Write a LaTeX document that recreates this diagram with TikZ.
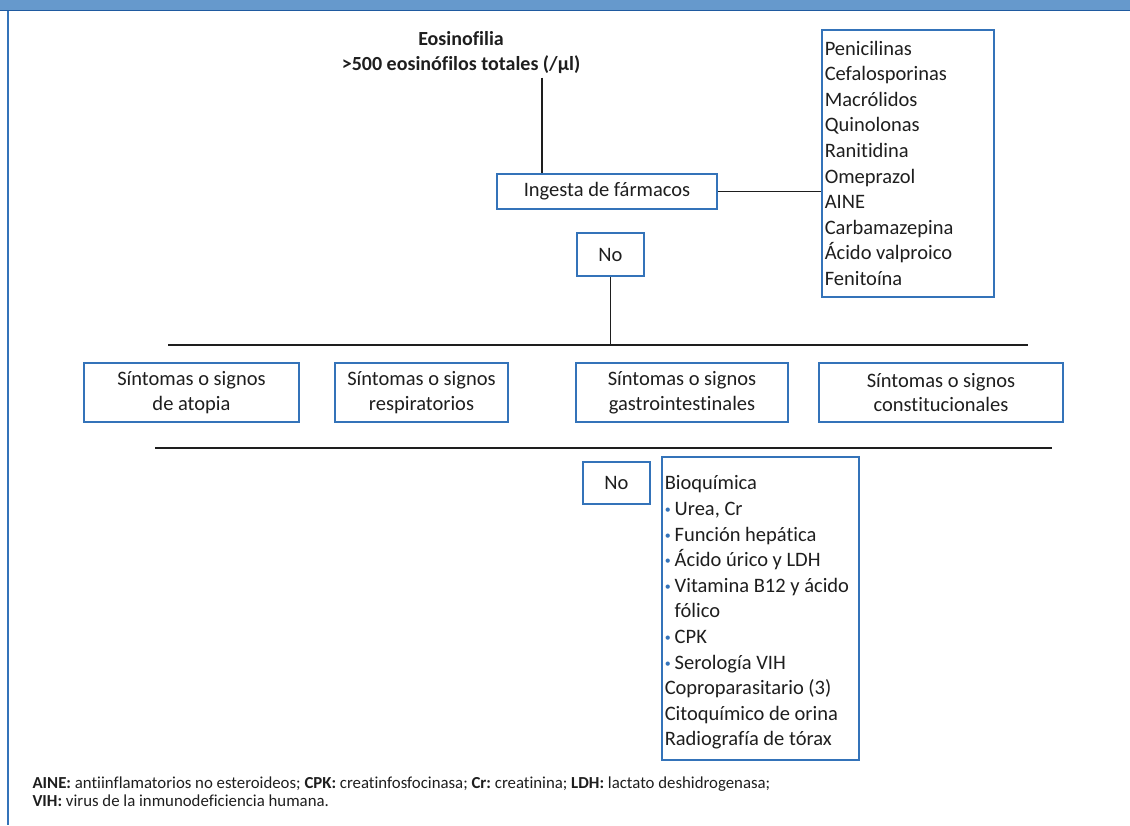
\documentclass[tikz,border=0pt]{standalone}
\usepackage{fontspec}
\setmainfont{Carlito}[Ligatures=NoCommon]
\usepackage{tikz}
\usetikzlibrary{positioning}
\frenchspacing

\definecolor{boxblue}{RGB}{52,115,185}
\definecolor{headblue}{RGB}{102,153,204}
\definecolor{headline}{RGB}{31,90,160}
\definecolor{inkgray}{RGB}{30,30,30}

\tikzset{
  box/.style={draw=boxblue, line width=1.5pt, inner sep=0pt, align=flush center,
    text=inkgray, font=\fontsize{20.5}{24.5}\selectfont},
  listbox/.style={box, align=flush left, anchor=north west, inner xsep=3pt, inner ysep=0pt,
    font=\fontsize{20.5}{25.6}\selectfont},
  link/.style={draw=inkgray, line width=1.2pt}
}
\newcommand{\bul}{\textcolor{boxblue}{\fontsize{12}{0}\selectfont\raisebox{1.8pt}{•}}\hspace{4pt}}

\begin{document}
\begin{tikzpicture}[x=1pt, y=-1pt]
\useasboundingbox (0,0) rectangle (1130,825);

% frame
\fill[headblue] (0,0) rectangle (1130,10);
\draw[headline, line width=1.5pt] (0,10.5) -- (1130,10.5);
\draw[boxblue, line width=1.5pt] (8,11) -- (8,825);

% nodes
\node[text=inkgray, align=center, font=\bfseries\fontsize{20}{25}\selectfont] (title) at (461,53)
  {Eosinofilia\\>500 eosinófilos totales (/µl)};
\node[box, minimum width=220pt, minimum height=35pt] (ingesta) at (607,191.5) {Ingesta de fármacos};
\node[listbox, minimum width=172pt, minimum height=267pt, text width=166pt] (drugs) at (821,29)
  {Penicilinas\\Cefalosporinas\\Macrólidos\\Quinolonas\\Ranitidina\\Omeprazol\\AINE\\Carbamazepina\\Ácido valproico\\Fenitoína};
\node[box, minimum width=67pt, minimum height=43pt] (no1) at (610.5,254.5) {No};

\node[box, minimum width=215pt, minimum height=59pt] (atopia) at (191.5,392.5) {Síntomas o signos\\de atopia};
\node[box, minimum width=173pt, minimum height=59pt] (resp) at (421.5,392.5) {Síntomas o signos\\respiratorios};
\node[box, minimum width=212pt, minimum height=59pt] (gastro) at (682,392.5) {Síntomas o signos\\gastrointestinales};
\node[box, minimum width=244pt, minimum height=59pt] (const) at (941,392.5) {Síntomas o signos\\constitucionales};

\node[box, minimum width=67pt, minimum height=42pt] (no2) at (616.5,483) {No};
\node[listbox, minimum width=197pt, minimum height=303pt, text width=191pt] (bio) at (661,456)
  {\rule{0pt}{23pt}Bioquímica\\
   \bul Urea, Cr\\
   \bul Función hepática\\
   \bul Ácido úrico y LDH\\
   \mbox{\bul Vitamina B12 y ácido}\\
   \hphantom{\bul}fólico\\
   \bul CPK\\
   \bul Serología VIH\\
   Coproparasitario (3)\\
   Citoquímico de orina\\
   Radiografía de tórax};

\node[anchor=west, align=flush left, text=inkgray, font=\fontsize{16.8}{18}\selectfont] (notes) at (29,792)
  {\textbf{AINE:} antiinflamatorios no esteroideos; \textbf{CPK:} creatinfosfocinasa; \textbf{Cr:} creatinina; \textbf{LDH:} lactato deshidrogenasa;\\
   \textbf{VIH:} virus de la inmunodeficiencia humana.};

\coordinate (bar1a) at (168,345);
\coordinate (bar1b) at (1028,345);
\coordinate (bar2a) at (155,448);
\coordinate (bar2b) at (1052,448);

% lines
\draw[link] ([xshift=81pt]title.south) -- ([xshift=81pt]title.south |- ingesta.north);
\draw[link] (ingesta.east) -- (ingesta.east -| drugs.west);
\draw[link] (no1.south) -- (no1.south |- bar1a);
\draw[link] (bar1a) -- (bar1b);
\draw[link] (bar2a) -- (bar2b);

\end{tikzpicture}
\end{document}
